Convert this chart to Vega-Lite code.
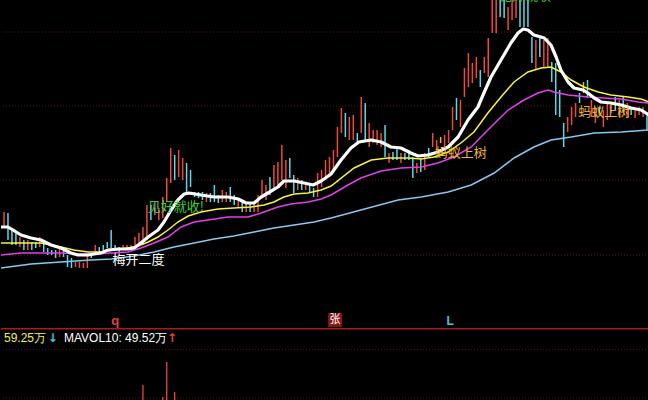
{
"$schema":"https://vega.github.io/schema/vega-lite/v6.json",
"background":"#000000","padding":0,"spacing":0,"bounds":"flush",
"config":{"view":{"stroke":null}},
"resolve":{"scale":{"y":"independent","x":"independent"}},
"datasets":{
"k":[
{"i":0,"h":16.5,"l":14.9,"k":"r"},{"i":1,"h":16.4,"l":13.7,"k":"c"},{"i":2,"h":14.9,"l":13.2,"k":"c"},{"i":3,"h":14.5,"l":13.2,"k":"c"},{"i":4,"h":14.0,"l":13.0,"k":"r"},{"i":5,"h":13.7,"l":12.7,"k":"c"},{"i":6,"h":13.7,"l":12.7,"k":"r"},{"i":7,"h":13.5,"l":12.7,"k":"c"},{"i":8,"h":13.5,"l":12.9,"k":"c"},{"i":9,"h":14.0,"l":13.0,"k":"r"},
{"i":10,"h":13.4,"l":12.5,"k":"c"},{"i":11,"h":12.9,"l":12.2,"k":"c"},{"i":12,"h":12.7,"l":12.2,"k":"c"},{"i":13,"h":12.7,"l":11.9,"k":"c"},{"i":14,"h":12.9,"l":12.0,"k":"r"},{"i":15,"h":12.7,"l":12.0,"k":"c"},{"i":16,"h":12.2,"l":11.0,"k":"c"},{"i":17,"h":11.9,"l":10.9,"k":"c"},{"i":18,"h":11.5,"l":11.0,"k":"r"},{"i":19,"h":11.5,"l":10.9,"k":"r"},
{"i":20,"h":11.4,"l":10.9,"k":"r"},{"i":21,"h":12.2,"l":10.9,"k":"r"},{"i":22,"h":12.4,"l":11.9,"k":"c"},{"i":23,"h":13.2,"l":12.5,"k":"r"},{"i":24,"h":13.0,"l":12.5,"k":"c"},{"i":25,"h":13.2,"l":12.7,"k":"c"},{"i":26,"h":13.5,"l":12.9,"k":"c"},{"i":27,"h":14.7,"l":12.9,"k":"c"},{"i":28,"h":13.2,"l":12.7,"k":"c"},{"i":29,"h":13.0,"l":12.5,"k":"c"},
{"i":30,"h":13.2,"l":12.7,"k":"r"},{"i":31,"h":13.2,"l":12.7,"k":"r"},{"i":32,"h":13.2,"l":12.7,"k":"r"},{"i":33,"h":14.0,"l":12.7,"k":"r"},{"i":34,"h":14.4,"l":13.2,"k":"r"},{"i":35,"h":15.0,"l":13.2,"k":"r"},{"i":36,"h":17.2,"l":13.7,"k":"r"},{"i":37,"h":17.2,"l":15.7,"k":"c"},{"i":38,"h":17.5,"l":16.2,"k":"r"},{"i":39,"h":16.9,"l":15.7,"k":"r"},
{"i":40,"h":18.0,"l":15.9,"k":"r"},{"i":41,"h":19.9,"l":17.5,"k":"r"},{"i":42,"h":22.9,"l":19.4,"k":"r"},{"i":43,"h":22.2,"l":19.7,"k":"c"},{"i":44,"h":22.7,"l":20.0,"k":"r"},{"i":45,"h":21.9,"l":19.7,"k":"r"},{"i":46,"h":21.4,"l":18.4,"k":"c"},{"i":47,"h":20.7,"l":19.0,"k":"c"},{"i":48,"h":18.5,"l":18.0,"k":"c"},{"i":49,"h":18.5,"l":17.9,"k":"c"},
{"i":50,"h":18.5,"l":17.7,"k":"c"},{"i":51,"h":18.4,"l":17.5,"k":"r"},{"i":52,"h":18.4,"l":17.5,"k":"c"},{"i":53,"h":19.2,"l":17.5,"k":"c"},{"i":54,"h":18.2,"l":17.4,"k":"c"},{"i":55,"h":18.7,"l":17.5,"k":"r"},{"i":56,"h":18.5,"l":17.5,"k":"r"},{"i":57,"h":19.0,"l":17.5,"k":"c"},{"i":58,"h":18.2,"l":17.2,"k":"c"},{"i":59,"h":17.9,"l":17.0,"k":"r"},
{"i":60,"h":17.5,"l":16.5,"k":"c"},{"i":61,"h":17.5,"l":16.5,"k":"r"},{"i":62,"h":17.5,"l":16.5,"k":"c"},{"i":63,"h":17.5,"l":16.5,"k":"r"},{"i":64,"h":18.2,"l":16.5,"k":"r"},{"i":65,"h":19.7,"l":17.9,"k":"r"},{"i":66,"h":19.2,"l":17.7,"k":"r"},{"i":67,"h":20.0,"l":18.2,"k":"c"},{"i":68,"h":21.2,"l":18.9,"k":"r"},{"i":69,"h":21.5,"l":19.2,"k":"r"},
{"i":70,"h":23.2,"l":19.7,"k":"r"},{"i":71,"h":21.7,"l":18.9,"k":"r"},{"i":72,"h":21.9,"l":19.9,"k":"c"},{"i":73,"h":20.2,"l":18.4,"k":"c"},{"i":74,"h":19.9,"l":18.7,"k":"r"},{"i":75,"h":19.7,"l":18.7,"k":"c"},{"i":76,"h":19.5,"l":18.7,"k":"r"},{"i":77,"h":19.2,"l":18.5,"k":"c"},{"i":78,"h":18.9,"l":18.0,"k":"c"},{"i":79,"h":20.4,"l":18.0,"k":"r"},
{"i":80,"h":20.7,"l":19.0,"k":"r"},{"i":81,"h":21.7,"l":19.7,"k":"r"},{"i":82,"h":22.0,"l":20.0,"k":"r"},{"i":83,"h":22.7,"l":20.5,"k":"r"},{"i":84,"h":25.0,"l":22.0,"k":"r"},{"i":85,"h":26.9,"l":24.4,"k":"r"},{"i":86,"h":26.4,"l":24.0,"k":"c"},{"i":87,"h":26.0,"l":23.7,"k":"r"},{"i":88,"h":26.2,"l":23.7,"k":"r"},{"i":89,"h":24.4,"l":23.4,"k":"c"},
{"i":90,"h":28.0,"l":24.4,"k":"r"},{"i":91,"h":27.4,"l":23.7,"k":"c"},{"i":92,"h":25.4,"l":23.0,"k":"r"},{"i":93,"h":24.7,"l":23.4,"k":"r"},{"i":94,"h":24.7,"l":23.2,"k":"r"},{"i":95,"h":24.4,"l":23.0,"k":"r"},{"i":96,"h":25.2,"l":22.0,"k":"c"},{"i":97,"h":22.4,"l":21.4,"k":"r"},{"i":98,"h":22.5,"l":21.7,"k":"c"},{"i":99,"h":23.0,"l":21.7,"k":"c"},
{"i":100,"h":22.4,"l":21.4,"k":"r"},{"i":101,"h":22.4,"l":21.7,"k":"c"},{"i":102,"h":22.7,"l":21.7,"k":"c"},{"i":103,"h":22.0,"l":19.9,"k":"c"},{"i":104,"h":21.4,"l":20.4,"k":"r"},{"i":105,"h":21.9,"l":20.5,"k":"c"},{"i":106,"h":22.4,"l":20.7,"k":"r"},{"i":107,"h":22.9,"l":22.0,"k":"c"},{"i":108,"h":24.4,"l":23.0,"k":"r"},{"i":109,"h":23.7,"l":22.7,"k":"r"},
{"i":110,"h":24.0,"l":23.4,"k":"y"},{"i":111,"h":24.2,"l":22.9,"k":"r"},{"i":112,"h":24.7,"l":23.4,"k":"r"},{"i":113,"h":27.0,"l":24.7,"k":"r"},{"i":114,"h":27.9,"l":25.7,"k":"c"},{"i":115,"h":27.7,"l":25.0,"k":"r"},{"i":116,"h":30.9,"l":28.0,"k":"r"},{"i":117,"h":32.4,"l":29.0,"k":"r"},{"i":118,"h":31.4,"l":29.4,"k":"r"},{"i":119,"h":32.0,"l":29.9,"k":"r"},
{"i":120,"h":30.7,"l":29.0,"k":"c"},{"i":121,"h":32.0,"l":30.4,"k":"r"},{"i":122,"h":33.9,"l":30.0,"k":"r"},{"i":123,"h":38.7,"l":34.4,"k":"r"},{"i":124,"h":38.7,"l":34.4,"k":"r"},{"i":125,"h":38.7,"l":36.0,"k":"c"},{"i":126,"h":38.7,"l":35.9,"k":"c"},{"i":127,"h":37.0,"l":34.7,"k":"r"},{"i":128,"h":38.7,"l":35.7,"k":"r"},{"i":129,"h":38.7,"l":35.9,"k":"r"},
{"i":130,"h":38.7,"l":35.0,"k":"c"},{"i":131,"h":38.7,"l":35.0,"k":"c"},{"i":132,"h":38.7,"l":35.0,"k":"c"},{"i":133,"h":34.0,"l":31.4,"k":"c"},{"i":134,"h":33.7,"l":30.7,"k":"r"},{"i":135,"h":34.0,"l":32.0,"k":"c"},{"i":136,"h":33.7,"l":31.0,"k":"r"},{"i":137,"h":33.9,"l":30.9,"k":"r"},{"i":138,"h":31.5,"l":29.5,"k":"c"},{"i":139,"h":31.4,"l":26.2,"k":"c"},
{"i":140,"h":28.7,"l":26.0,"k":"c"},{"i":141,"h":25.4,"l":23.0,"k":"c"},{"i":142,"h":26.0,"l":24.5,"k":"r"},{"i":143,"h":27.0,"l":25.2,"k":"r"},{"i":144,"h":27.4,"l":26.0,"k":"r"},{"i":145,"h":28.4,"l":27.4,"k":"c"},{"i":146,"h":29.5,"l":28.4,"k":"y"},{"i":147,"h":29.7,"l":27.9,"k":"c"},{"i":148,"h":27.7,"l":26.0,"k":"r"},{"i":149,"h":27.0,"l":25.4,"k":"r"},
{"i":150,"h":27.0,"l":26.2,"k":"c"},{"i":151,"h":26.7,"l":25.0,"k":"r"},{"i":152,"h":27.4,"l":25.7,"k":"r"},{"i":153,"h":27.4,"l":26.4,"k":"r"},{"i":154,"h":28.0,"l":26.7,"k":"c"},{"i":155,"h":27.7,"l":26.0,"k":"r"},{"i":156,"h":28.0,"l":26.4,"k":"c"},{"i":157,"h":27.4,"l":26.0,"k":"r"},{"i":158,"h":27.0,"l":26.2,"k":"c"},{"i":159,"h":26.7,"l":25.9,"k":"r"},
{"i":160,"h":27.0,"l":26.2,"k":"r"},{"i":161,"h":27.0,"l":26.0,"k":"r"},{"i":162,"h":26.4,"l":24.7,"k":"c"}
],
"ma":[
{"i":-0.76,"p":10.9,"k":"ma60"},{"i":6.8,"p":11.3,"k":"ma60"},{"i":14.36,"p":11.5,"k":"ma60"},{"i":21.9,"p":11.7,"k":"ma60"},{"i":27.0,"p":11.8,"k":"ma60"},{"i":32.8,"p":12.1,"k":"ma60"},{"i":37.8,"p":12.5,"k":"ma60"},{"i":42.8,"p":13.0,"k":"ma60"},{"i":47.9,"p":13.4,"k":"ma60"},{"i":52.9,"p":13.8,"k":"ma60"},{"i":57.9,"p":14.1,"k":"ma60"},{"i":63.0,"p":14.5,"k":"ma60"},{"i":68.0,"p":14.9,"k":"ma60"},{"i":73.1,"p":15.2,"k":"ma60"},{"i":78.1,"p":15.5,"k":"ma60"},{"i":82.4,"p":15.9,"k":"ma60"},{"i":89.9,"p":16.7,"k":"ma60"},{"i":99.3,"p":17.7,"k":"ma60"},{"i":105.1,"p":18.0,"k":"ma60"},{"i":111.9,"p":18.5,"k":"ma60"},{"i":117.7,"p":19.2,"k":"ma60"},{"i":123.5,"p":20.4,"k":"ma60"},{"i":128.5,"p":21.9,"k":"ma60"},{"i":133.5,"p":23.0,"k":"ma60"},{"i":137.8,"p":23.7,"k":"ma60"},{"i":142.9,"p":24.0,"k":"ma60"},{"i":148.7,"p":24.4,"k":"ma60"},{"i":155.5,"p":24.5,"k":"ma60"},{"i":162.5,"p":24.7,"k":"ma60"},
{"i":-0.76,"p":12.2,"k":"ma20"},{"i":4.28,"p":12.4,"k":"ma20"},{"i":9.32,"p":12.4,"k":"ma20"},{"i":14.36,"p":12.4,"k":"ma20"},{"i":19.4,"p":12.3,"k":"ma20"},{"i":22.7,"p":12.3,"k":"ma20"},{"i":27.0,"p":12.4,"k":"ma20"},{"i":31.2,"p":12.5,"k":"ma20"},{"i":34.5,"p":12.9,"k":"ma20"},{"i":37.8,"p":13.4,"k":"ma20"},{"i":41.3,"p":14.0,"k":"ma20"},{"i":44.6,"p":15.0,"k":"ma20"},{"i":47.9,"p":15.5,"k":"ma20"},{"i":51.4,"p":15.7,"k":"ma20"},{"i":56.4,"p":16.0,"k":"ma20"},{"i":61.5,"p":16.0,"k":"ma20"},{"i":64.8,"p":16.4,"k":"ma20"},{"i":69.0,"p":17.0,"k":"ma20"},{"i":72.3,"p":17.3,"k":"ma20"},{"i":76.6,"p":17.5,"k":"ma20"},{"i":79.9,"p":17.8,"k":"ma20"},{"i":82.4,"p":18.2,"k":"ma20"},{"i":86.2,"p":19.1,"k":"ma20"},{"i":89.9,"p":19.9,"k":"ma20"},{"i":95.0,"p":20.6,"k":"ma20"},{"i":100.0,"p":20.9,"k":"ma20"},{"i":105.1,"p":21.0,"k":"ma20"},{"i":109.3,"p":21.4,"k":"ma20"},{"i":113.4,"p":22.0,"k":"ma20"},{"i":117.7,"p":23.0,"k":"ma20"},{"i":121.9,"p":24.7,"k":"ma20"},{"i":127.0,"p":26.7,"k":"ma20"},{"i":131.0,"p":27.7,"k":"ma20"},{"i":134.5,"p":28.4,"k":"ma20"},{"i":137.1,"p":28.7,"k":"ma20"},{"i":138.6,"p":28.5,"k":"ma20"},{"i":142.1,"p":28.2,"k":"ma20"},{"i":147.1,"p":28.0,"k":"ma20"},{"i":151.2,"p":27.9,"k":"ma20"},{"i":155.5,"p":27.8,"k":"ma20"},{"i":159.7,"p":27.5,"k":"ma20"},{"i":162.5,"p":27.4,"k":"ma20"},
{"i":-0.76,"p":13.4,"k":"ma10"},{"i":4.28,"p":13.4,"k":"ma10"},{"i":9.32,"p":13.4,"k":"ma10"},{"i":14.36,"p":13.0,"k":"ma10"},{"i":17.6,"p":12.7,"k":"ma10"},{"i":21.2,"p":12.5,"k":"ma10"},{"i":24.4,"p":12.5,"k":"ma10"},{"i":27.7,"p":12.7,"k":"ma10"},{"i":31.2,"p":12.9,"k":"ma10"},{"i":33.8,"p":13.1,"k":"ma10"},{"i":36.3,"p":13.5,"k":"ma10"},{"i":38.8,"p":14.0,"k":"ma10"},{"i":41.3,"p":14.7,"k":"ma10"},{"i":43.8,"p":15.5,"k":"ma10"},{"i":46.4,"p":16.1,"k":"ma10"},{"i":49.6,"p":16.5,"k":"ma10"},{"i":53.9,"p":16.8,"k":"ma10"},{"i":57.9,"p":16.9,"k":"ma10"},{"i":62.2,"p":17.0,"k":"ma10"},{"i":65.5,"p":17.2,"k":"ma10"},{"i":68.0,"p":17.5,"k":"ma10"},{"i":70.5,"p":18.0,"k":"ma10"},{"i":73.1,"p":18.3,"k":"ma10"},{"i":76.6,"p":18.4,"k":"ma10"},{"i":79.9,"p":18.7,"k":"ma10"},{"i":82.4,"p":19.1,"k":"ma10"},{"i":88.2,"p":20.9,"k":"ma10"},{"i":92.5,"p":21.7,"k":"ma10"},{"i":96.7,"p":21.9,"k":"ma10"},{"i":101.8,"p":21.9,"k":"ma10"},{"i":105.1,"p":21.8,"k":"ma10"},{"i":108.3,"p":22.0,"k":"ma10"},{"i":111.9,"p":22.5,"k":"ma10"},{"i":115.1,"p":23.4,"k":"ma10"},{"i":118.4,"p":24.5,"k":"ma10"},{"i":121.9,"p":26.4,"k":"ma10"},{"i":125.2,"p":28.0,"k":"ma10"},{"i":128.5,"p":29.5,"k":"ma10"},{"i":132.0,"p":30.5,"k":"ma10"},{"i":135.3,"p":30.9,"k":"ma10"},{"i":137.8,"p":31.0,"k":"ma10"},{"i":140.3,"p":30.5,"k":"ma10"},{"i":142.9,"p":29.7,"k":"ma10"},{"i":146.1,"p":29.0,"k":"ma10"},{"i":149.7,"p":28.5,"k":"ma10"},{"i":152.9,"p":28.2,"k":"ma10"},{"i":157.2,"p":28.0,"k":"ma10"},{"i":160.5,"p":27.8,"k":"ma10"},{"i":162.5,"p":27.5,"k":"ma10"},
{"i":-0.76,"p":15.0,"k":"ma5"},{"i":1.0,"p":15.0,"k":"ma5"},{"i":2.27,"p":14.7,"k":"ma5"},{"i":4.28,"p":14.2,"k":"ma5"},{"i":6.8,"p":13.9,"k":"ma5"},{"i":9.32,"p":13.7,"k":"ma5"},{"i":11.84,"p":13.2,"k":"ma5"},{"i":14.36,"p":12.9,"k":"ma5"},{"i":16.88,"p":12.4,"k":"ma5"},{"i":18.6,"p":12.2,"k":"ma5"},{"i":21.2,"p":12.2,"k":"ma5"},{"i":22.7,"p":12.3,"k":"ma5"},{"i":24.4,"p":12.4,"k":"ma5"},{"i":26.2,"p":12.7,"k":"ma5"},{"i":28.7,"p":12.8,"k":"ma5"},{"i":31.2,"p":12.8,"k":"ma5"},{"i":32.8,"p":12.9,"k":"ma5"},{"i":34.5,"p":13.4,"k":"ma5"},{"i":36.3,"p":14.0,"k":"ma5"},{"i":38.8,"p":14.7,"k":"ma5"},{"i":40.3,"p":15.5,"k":"ma5"},{"i":42.1,"p":16.7,"k":"ma5"},{"i":43.8,"p":17.7,"k":"ma5"},{"i":45.4,"p":18.3,"k":"ma5"},{"i":46.6,"p":18.4,"k":"ma5"},{"i":49.6,"p":18.2,"k":"ma5"},{"i":52.9,"p":18.0,"k":"ma5"},{"i":56.4,"p":18.0,"k":"ma5"},{"i":59.0,"p":17.8,"k":"ma5"},{"i":61.0,"p":17.4,"k":"ma5"},{"i":63.0,"p":17.4,"k":"ma5"},{"i":64.8,"p":18.0,"k":"ma5"},{"i":66.5,"p":18.4,"k":"ma5"},{"i":69.0,"p":19.0,"k":"ma5"},{"i":70.5,"p":19.6,"k":"ma5"},{"i":73.1,"p":19.6,"k":"ma5"},{"i":75.6,"p":19.4,"k":"ma5"},{"i":77.9,"p":19.2,"k":"ma5"},{"i":79.9,"p":19.6,"k":"ma5"},{"i":82.4,"p":20.3,"k":"ma5"},{"i":84.9,"p":21.7,"k":"ma5"},{"i":87.4,"p":22.9,"k":"ma5"},{"i":89.4,"p":23.5,"k":"ma5"},{"i":92.5,"p":23.7,"k":"ma5"},{"i":95.0,"p":23.5,"k":"ma5"},{"i":97.5,"p":23.0,"k":"ma5"},{"i":100.0,"p":22.9,"k":"ma5"},{"i":102.5,"p":22.4,"k":"ma5"},{"i":104.3,"p":22.1,"k":"ma5"},{"i":106.8,"p":22.2,"k":"ma5"},{"i":109.3,"p":22.5,"k":"ma5"},{"i":111.9,"p":23.0,"k":"ma5"},{"i":114.4,"p":24.0,"k":"ma5"},{"i":116.9,"p":25.7,"k":"ma5"},{"i":119.4,"p":27.0,"k":"ma5"},{"i":120.9,"p":28.4,"k":"ma5"},{"i":122.7,"p":30.0,"k":"ma5"},{"i":125.2,"p":31.7,"k":"ma5"},{"i":127.7,"p":33.4,"k":"ma5"},{"i":129.5,"p":34.4,"k":"ma5"},{"i":130.8,"p":34.8,"k":"ma5"},{"i":132.0,"p":34.7,"k":"ma5"},{"i":133.5,"p":34.2,"k":"ma5"},{"i":136.1,"p":33.9,"k":"ma5"},{"i":137.8,"p":33.2,"k":"ma5"},{"i":139.1,"p":32.0,"k":"ma5"},{"i":140.3,"p":30.7,"k":"ma5"},{"i":142.1,"p":29.5,"k":"ma5"},{"i":143.6,"p":28.9,"k":"ma5"},{"i":145.9,"p":28.7,"k":"ma5"},{"i":147.1,"p":28.4,"k":"ma5"},{"i":148.7,"p":27.9,"k":"ma5"},{"i":150.4,"p":27.5,"k":"ma5"},{"i":152.9,"p":27.4,"k":"ma5"},{"i":155.5,"p":27.2,"k":"ma5"},{"i":158.0,"p":26.9,"k":"ma5"},{"i":160.5,"p":26.7,"k":"ma5"},{"i":162.5,"p":26.2,"k":"ma5"}
]
},
"vconcat":[
{"width":648,"height":328,
"layer":[
{"data":{"values":[{"p":34.5},{"p":27.1},{"p":19.7},{"p":12.2}]},
 "mark":{"type":"rule","color":"#5c1414","strokeDash":[1,2],"strokeWidth":1},
 "encoding":{"y":{"field":"p","type":"quantitative","scale":{"domain":[4.9,37.7]},"axis":null}}},
{"data":{"name":"k"},
 "mark":{"type":"rule","clip":true},
 "encoding":{
  "x":{"field":"i","type":"quantitative","scale":{"domain":[-0.76,162.5],"nice":false,"zero":false},"axis":null},
  "y":{"field":"h","type":"quantitative","scale":{"domain":[4.9,37.7],"nice":false,"zero":false},"axis":null},
  "y2":{"field":"l"},
  "color":{"field":"k","type":"nominal","scale":{"domain":["r","c","y","ma10","ma20","ma60"],"range":["#ec4a3c","#5cd8e8","#ffb400","#f4f440","#e040e8","#86c8f0"]},"legend":null},
  "strokeWidth":{"field":"k","type":"nominal","scale":{"domain":["r","c","y","ma10","ma20","ma60"],"range":[1.5,1.5,3.5,1,1.4,1.4]},"legend":null}}},
{"data":{"name":"ma"},
 "transform":[{"filter":{"field":"k","oneOf":["ma60","ma20","ma10"]}}],
 "mark":{"type":"line","clip":true},
 "encoding":{
  "x":{"field":"i","type":"quantitative","axis":null},
  "y":{"field":"p","type":"quantitative","axis":null},
  "color":{"field":"k","type":"nominal","legend":null},
  "strokeWidth":{"field":"k","type":"nominal","legend":null},
  "order":{"field":"i","type":"quantitative"}}},
{"data":{"name":"ma"},
 "transform":[{"filter":{"field":"k","equal":"ma5"}}],
 "mark":{"type":"line","clip":true,"color":"#ffffff","strokeWidth":3.2,"strokeJoin":"round"},
 "encoding":{
  "x":{"field":"i","type":"quantitative","axis":null},
  "y":{"field":"p","type":"quantitative","axis":null},
  "order":{"field":"i","type":"quantitative"}}},
{"data":{"values":[{"i":33.9,"p":11.7,"t":"梅开二度"}]},
 "mark":{"type":"text","color":"#ffffff","font":"Noto Sans CJK SC","fontSize":13},
 "encoding":{"x":{"field":"i","type":"quantitative"},"y":{"field":"p","type":"quantitative"},"text":{"field":"t"}}},
{"data":{"values":[{"i":43.3,"p":17.0,"t":"见好就收!"},{"i":131.8,"p":38.1,"t":"见好就收!"}]},
 "mark":{"type":"text","color":"#3ccf3c","font":"Noto Sans CJK SC","fontSize":13,"clip":true},
 "encoding":{"x":{"field":"i","type":"quantitative"},"y":{"field":"p","type":"quantitative"},"text":{"field":"t"}}},
{"data":{"values":[{"i":115.1,"p":22.4,"t":"蚂蚁上树"},{"i":151.2,"p":26.5,"t":"蚂蚁上树"}]},
 "mark":{"type":"text","color":"#f0b432","font":"Noto Sans CJK SC","fontSize":13},
 "encoding":{"x":{"field":"i","type":"quantitative"},"y":{"field":"p","type":"quantitative"},"text":{"field":"t"}}},
{"data":{"values":[{"i":83.4,"p":5.7}]},
 "mark":{"type":"point","shape":"square","filled":true,"size":190,"color":"#8a1818","opacity":1},
 "encoding":{"x":{"field":"i","type":"quantitative"},"y":{"field":"p","type":"quantitative"}}},
{"data":{"values":[{"i":83.4,"p":5.7,"t":"张"}]},
 "mark":{"type":"text","color":"#ffffff","font":"Noto Sans CJK SC","fontSize":11},
 "encoding":{"x":{"field":"i","type":"quantitative"},"y":{"field":"p","type":"quantitative"},"text":{"field":"t"}}},
{"data":{"values":[{"i":28.0,"p":5.6,"t":"q"}]},
 "mark":{"type":"text","color":"#e8403a","font":"Liberation Sans","fontSize":13,"fontWeight":"bold"},
 "encoding":{"x":{"field":"i","type":"quantitative"},"y":{"field":"p","type":"quantitative"},"text":{"field":"t"}}},
{"data":{"values":[{"i":112.4,"p":5.6,"t":"L"}]},
 "mark":{"type":"text","color":"#40c8d8","font":"Liberation Sans","fontSize":12,"fontWeight":"bold"},
 "encoding":{"x":{"field":"i","type":"quantitative"},"y":{"field":"p","type":"quantitative"},"text":{"field":"t"}}}
]},
{"width":648,"height":72,
"layer":[
{"data":{"values":[{"v":100},{"v":33}]},
 "mark":{"type":"rule","color":"#5c1414","strokeDash":[1,2],"strokeWidth":1},
 "encoding":{"y":{"field":"v","type":"quantitative","scale":{"domain":[30,130],"nice":false,"zero":false},"axis":null}}},
{"data":{"values":[{"v":129}]},
 "mark":{"type":"rule","color":"#a81c1c","strokeWidth":1.5},
 "encoding":{"y":{"field":"v","type":"quantitative"}}},
{"data":{"values":[{"i":35,"v":50.8},{"i":40,"v":34.2},{"i":41,"v":82.8},{"i":43,"v":41.1}]},
 "mark":{"type":"rule","color":"#e8483a","strokeWidth":1.3,"clip":true},
 "encoding":{"x":{"field":"i","type":"quantitative","scale":{"domain":[-0.76,162.5],"nice":false,"zero":false},"axis":null},"y":{"field":"v","type":"quantitative"},"y2":{"datum":0}}},
{"data":{"values":[{"i":0,"v":116.1,"t":"59.25万"}]},
 "mark":{"type":"text","color":"#f0f050","font":"Liberation Sans","fontSize":12,"align":"left"},
 "encoding":{"x":{"field":"i","type":"quantitative"},"y":{"field":"v","type":"quantitative"},"text":{"field":"t"}}},
{"data":{"values":[{"i":12.3,"v":116.1,"t":"↓"}]},
 "mark":{"type":"text","color":"#40c8e0","font":"DejaVu Sans","fontSize":12,"fontWeight":"bold"},
 "encoding":{"x":{"field":"i","type":"quantitative"},"y":{"field":"v","type":"quantitative"},"text":{"field":"t"}}},
{"data":{"values":[{"i":15.1,"v":116.1,"t":"MAVOL10: 49.52万"}]},
 "mark":{"type":"text","color":"#ffffff","font":"Liberation Sans","fontSize":12,"align":"left"},
 "encoding":{"x":{"field":"i","type":"quantitative"},"y":{"field":"v","type":"quantitative"},"text":{"field":"t"}}},
{"data":{"values":[{"i":42.3,"v":116.1,"t":"↑"}]},
 "mark":{"type":"text","color":"#e8403a","font":"DejaVu Sans","fontSize":12,"fontWeight":"bold"},
 "encoding":{"x":{"field":"i","type":"quantitative"},"y":{"field":"v","type":"quantitative"},"text":{"field":"t"}}}
]}
]
}
